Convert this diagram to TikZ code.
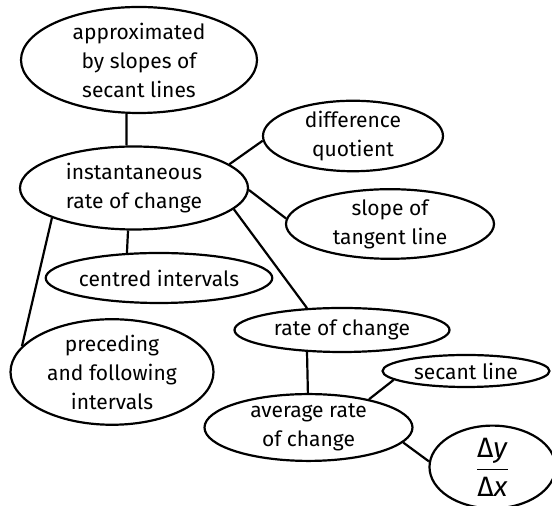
\documentclass[tikz,border=0pt]{standalone}
\usepackage{fontspec}
\setmainfont{Fira Sans}
\usepackage{tikz}
\usetikzlibrary{shapes.geometric,positioning}

\begin{document}
\begin{tikzpicture}[
  x=0.5pt, y=-0.5pt, on grid,
  idea/.style={draw, ellipse, inner sep=0pt, align=center, line width=1.1pt,
               font=\fontsize{10.5}{14.5}\selectfont},
  link/.style={line width=1.1pt}]

  \useasboundingbox (0,0) rectangle (552,506);

  \node[idea, minimum width=118pt, minimum height=53pt] at (139,60)
       (approx) {approximated\\by slopes of\\secant lines};
  \node[idea, below left=64pt and 2.5pt of approx, minimum width=114pt,
        minimum height=41.5pt] (inst) {instantaneous\\rate of change};
  \node[idea, above right=26pt and 109.5pt of inst, minimum width=90pt,
        minimum height=34pt] (diff) {difference\\quotient};
  \node[idea, below right=18pt and 128pt of inst, minimum width=104pt,
        minimum height=32.5pt] (tangent) {slope of\\tangent line};
  \node[idea, below right=45pt and 12.5pt of inst, minimum width=109pt,
        minimum height=25pt] (centred) {centred intervals};
  \node[idea, below left=92pt and 11pt of inst, minimum width=101.5pt,
        minimum height=50pt] (prec) {preceding\\and following\\intervals};
  \node[idea, below right=71pt and 104pt of inst, minimum width=107.5pt,
        minimum height=22pt] (rate) {rate of change};
  \node[idea, below left=48.75pt and 16.75pt of rate, minimum width=104pt,
        minimum height=32.5pt] (avg) {average rate\\of change};
  \node[idea, above right=28.25pt and 78.75pt of avg, minimum width=83.5pt,
        minimum height=16pt] (secant) {secant line};
  \node[idea, below right=19.75pt and 92pt of avg, minimum width=63pt,
        minimum height=39pt, font=\fontsize{14}{16}\selectfont] (quot)
       {$\displaystyle\frac{\mbox{Δ\textit{y}}}{\mbox{Δ\textit{x}}}$};

  \draw[link] (approx.-103) -- (inst.100);
  \draw[link] (inst.14) -- (diff.183);
  \draw[link] (inst.-1) -- (tangent.177);
  \draw[link] (inst.-98) -- (centred.142);
  \draw[link] (inst.-12) -- (rate.148);
  \draw[link] (inst.-160) -- (prec.164);
  \draw[link] (rate.-148) -- (avg.91);
  \draw[link] (avg.25) -- (secant.-173);
  \draw[link] (avg.-9) -- (quot.175);
\end{tikzpicture}
\end{document}
